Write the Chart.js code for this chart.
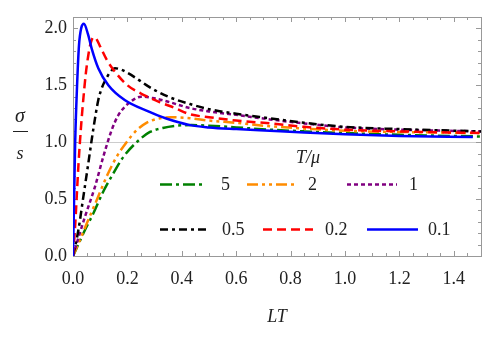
<!DOCTYPE html>
<html><head><meta charset="utf-8">
<script src="https://cdn.jsdelivr.net/npm/chart.js@4/dist/chart.umd.min.js"></script>
<style>html,body{margin:0;padding:0;background:#fff}</style>
</head><body>
<canvas id="c" width="498" height="343"></canvas>
<script>
// ---- data ----
const seriesLabels = ['5', '2', '1', '0.5', '0.2', '0.1'];
const legendTitle = 'T/\u03bc';
const xAxisTitle = 'LT';

const lt5  = [0, 0.022, 0.044, 0.075, 0.111, 0.148, 0.185, 0.234, 0.283, 0.33, 0.38, 0.436, 0.5, 0.6, 0.724, 0.85, 1.0, 1.2, 1.5];
const s5   = [0, 0.115, 0.228, 0.375, 0.565, 0.725, 0.87, 1.0, 1.09, 1.125, 1.145, 1.15, 1.145, 1.13, 1.11, 1.095, 1.08, 1.065, 1.05];

const lt2  = [0, 0.02, 0.056, 0.087, 0.124, 0.16, 0.197, 0.234, 0.27, 0.31, 0.36, 0.43, 0.5, 0.6, 0.724, 0.85, 1.0, 1.2, 1.5];
const s2   = [0, 0.11, 0.316, 0.49, 0.70, 0.87, 1.0, 1.105, 1.17, 1.205, 1.22, 1.21, 1.19, 1.17, 1.14, 1.12, 1.10, 1.09, 1.08];

const lt1  = [0, 0.0135, 0.044, 0.081, 0.111, 0.142, 0.165, 0.19, 0.22, 0.25, 0.3, 0.35, 0.43, 0.5, 0.6, 0.724, 0.85, 1.0, 1.2, 1.5];
const s1   = [0, 0.11, 0.345, 0.61, 0.87, 1.105, 1.23, 1.31, 1.37, 1.40, 1.385, 1.355, 1.30, 1.27, 1.24, 1.20, 1.165, 1.13, 1.11, 1.095];

const lt05 = [0, 0.02, 0.038, 0.056, 0.075, 0.093, 0.105, 0.118, 0.135, 0.154, 0.175, 0.2, 0.24, 0.277, 0.35, 0.43, 0.5, 0.6, 0.724, 0.85, 1.0, 1.2, 1.5];
const s05  = [0, 0.23, 0.52, 0.81, 1.12, 1.37, 1.47, 1.54, 1.61, 1.65, 1.64, 1.61, 1.55, 1.49, 1.40, 1.335, 1.29, 1.25, 1.21, 1.17, 1.135, 1.115, 1.095];

const lt02 = [0, 0.007, 0.02, 0.03, 0.038, 0.047, 0.056, 0.065, 0.075, 0.085, 0.1, 0.125, 0.154, 0.2, 0.265, 0.32, 0.375, 0.43, 0.5, 0.6, 0.724, 0.85, 1.0, 1.2, 1.5];
const s02  = [0, 0.23, 0.80, 1.15, 1.38, 1.60, 1.76, 1.87, 1.92, 1.91, 1.84, 1.72, 1.62, 1.50, 1.41, 1.35, 1.30, 1.245, 1.22, 1.19, 1.165, 1.135, 1.11, 1.095, 1.08];

const lt01 = [0, 0.004, 0.008, 0.015, 0.022, 0.03, 0.04, 0.055, 0.069, 0.093, 0.13, 0.19, 0.277, 0.34, 0.43, 0.5, 0.6, 0.724, 0.85, 1.0, 1.2, 1.47];
const s01  = [0, 0.50, 1.00, 1.50, 1.85, 2.00, 2.04, 1.95, 1.82, 1.65, 1.50, 1.37, 1.27, 1.21, 1.15, 1.13, 1.115, 1.10, 1.085, 1.07, 1.055, 1.045];

const xTickValues = [0, 0.2, 0.4, 0.6, 0.8, 1.0, 1.2, 1.4];
const xTickLabels = ['0.0', '0.2', '0.4', '0.6', '0.8', '1.0', '1.2', '1.4'];
const yTickValues = [0, 0.5, 1.0, 1.5, 2.0];
const yTickLabels = ['0.0', '0.5', '1.0', '1.5', '2.0'];

// ---- styles ----
const styles = [
  {color: 'rgb(0,128,0)',   dash: [12, 4, 3, 4]},
  {color: 'rgb(255,140,0)', dash: [11, 4, 3, 4, 3, 4]},
  {color: 'rgb(128,0,128)', dash: [4, 3]},
  {color: 'rgb(0,0,0)',     dash: [8, 4, 3, 4]},
  {color: 'rgb(255,0,0)',   dash: [9, 5]},
  {color: 'rgb(0,0,255)',   dash: []}
];
const xs = [lt5, lt2, lt1, lt05, lt02, lt01];
const ys = [s5, s2, s1, s05, s02, s01];

const datasets = seriesLabels.map((lab, i) => ({
  label: lab,
  data: xs[i].map((x, k) => ({x: x, y: ys[i][k]})),
  borderColor: styles[i].color,
  borderDash: styles[i].dash,
  borderWidth: 2.5,
  pointRadius: 0,
  fill: false,
  cubicInterpolationMode: 'monotone',
  order: seriesLabels.length - i
}));

const FONT = '"Liberation Serif", "DejaVu Serif", serif';
const GRAY = '#999999';

const decor = {
  id: 'decor',
  beforeDatasetsDraw(chart) {
    const {ctx, chartArea: a, scales: {x, y}} = chart;
    ctx.save();
    ctx.strokeStyle = '#cccccc';
    ctx.lineWidth = 1;
    const gy = Math.round(y.getPixelForValue(1.0)) + 0.5;
    ctx.beginPath(); ctx.moveTo(a.left, gy); ctx.lineTo(a.right, gy); ctx.stroke();
    ctx.strokeStyle = GRAY;
    ctx.strokeRect(Math.round(a.left) + 0.5, Math.round(a.top) + 0.5,
                   Math.round(a.right - a.left), Math.round(a.bottom - a.top));
    ctx.beginPath();
    for (let k = 0; k <= 30; k++) {
      const v = k * 0.05;
      const px = Math.round(x.getPixelForValue(v)) + 0.5;
      const len = (k % 4 === 0) ? 5 : 3;
      ctx.moveTo(px, a.bottom); ctx.lineTo(px, a.bottom - len);
      ctx.moveTo(px, a.top); ctx.lineTo(px, a.top + len);
    }
    for (let k = 0; k <= 21; k++) {
      const v = k * 0.1;
      const py = Math.round(y.getPixelForValue(v)) + 0.5;
      const len = (k % 5 === 0) ? 5 : 3;
      ctx.moveTo(a.left, py); ctx.lineTo(a.left + len, py);
      ctx.moveTo(a.right, py); ctx.lineTo(a.right - len, py);
    }
    ctx.stroke();
    ctx.restore();
  },
  afterDraw(chart) {
    const {ctx, chartArea: a, scales: {x, y}} = chart;
    ctx.save();
    ctx.fillStyle = '#222';
    ctx.font = '18px ' + FONT;
    ctx.textAlign = 'center'; ctx.textBaseline = 'middle';
    xTickValues.forEach((v, i) => ctx.fillText(xTickLabels[i], x.getPixelForValue(v), a.bottom + 23));
    ctx.textAlign = 'right';
    yTickValues.forEach((v, i) => ctx.fillText(yTickLabels[i], a.left - 6, y.getPixelForValue(v)));
    ctx.font = 'italic 18px ' + FONT;
    ctx.textAlign = 'center';
    ctx.fillText(xAxisTitle, 277, 317);
    ctx.font = 'italic 20px ' + FONT;
    ctx.fillText('\u03c3', 20, 117);
    ctx.font = 'italic 18px ' + FONT;
    ctx.fillText('s', 20, 154);
    ctx.strokeStyle = '#222'; ctx.lineWidth = 1;
    ctx.beginPath(); ctx.moveTo(13, 131.5); ctx.lineTo(28, 131.5); ctx.stroke();
    ctx.fillText(legendTitle, 308, 158);
    const rows = [184.5, 229.5];
    const samples = [[160, 205, 221], [247, 297, 308], [347, 397, 409],
                     [160, 208, 222], [263, 313, 325], [367, 418, 428]];
    ctx.font = '18px ' + FONT;
    ctx.textAlign = 'left';
    chart.data.datasets.forEach((ds, i) => {
      const ry = rows[i < 3 ? 0 : 1];
      const s = samples[i];
      ctx.save();
      ctx.strokeStyle = ds.borderColor; ctx.lineWidth = 2.5;
      ctx.setLineDash(ds.borderDash);
      ctx.beginPath(); ctx.moveTo(s[0], ry); ctx.lineTo(s[1], ry); ctx.stroke();
      ctx.restore();
      ctx.fillText(ds.label, s[2], ry + 1);
    });
    ctx.restore();
  }
};

new Chart(document.getElementById('c'), {
  type: 'line',
  data: {datasets: datasets},
  options: {
    responsive: false,
    animation: false,
    devicePixelRatio: 1,
    layout: {padding: {left: 73, right: 17, top: 17, bottom: 87}},
    scales: {
      x: {type: 'linear', min: 0, max: 1.5, display: false},
      y: {type: 'linear', min: 0, max: 2.1, display: false}
    },
    plugins: {legend: {display: false}, tooltip: {enabled: false}}
  },
  plugins: [decor]
});
</script>
</body></html>
